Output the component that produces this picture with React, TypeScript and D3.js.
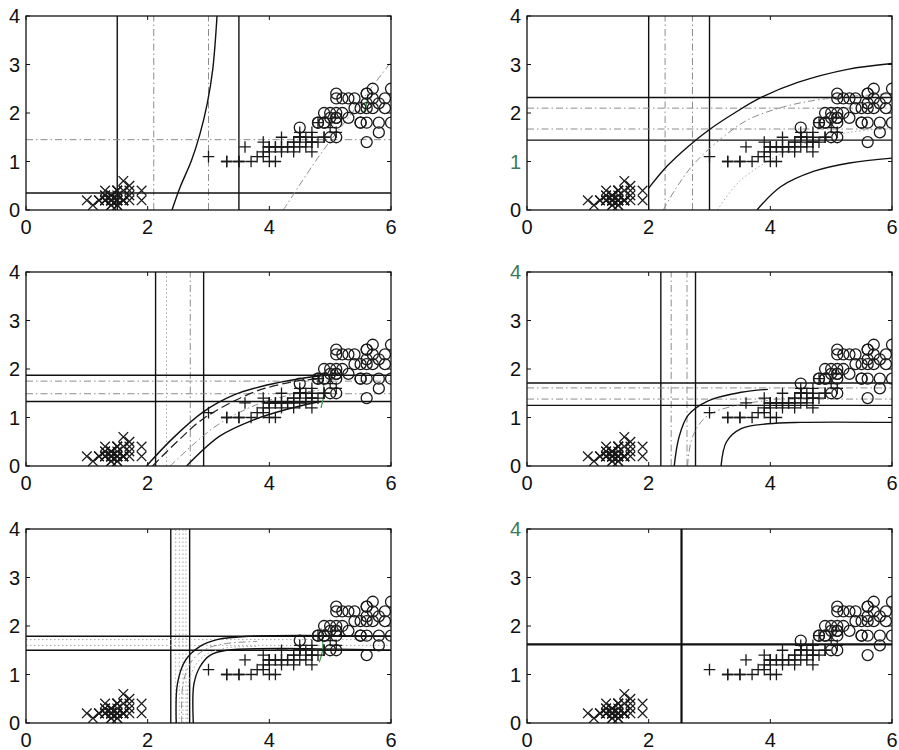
import React from "react";
import * as d3 from "d3";

type P = [number, number];

// Iris petal length / petal width
const SETOSA: P[] = [
  [1.4,0.2],[1.4,0.2],[1.3,0.2],[1.5,0.2],[1.4,0.2],[1.7,0.4],[1.4,0.3],[1.5,0.2],[1.4,0.2],[1.5,0.1],
  [1.5,0.2],[1.6,0.2],[1.4,0.1],[1.1,0.1],[1.2,0.2],[1.5,0.4],[1.3,0.4],[1.4,0.3],[1.7,0.3],[1.5,0.3],
  [1.7,0.2],[1.5,0.4],[1.0,0.2],[1.7,0.5],[1.9,0.2],[1.6,0.2],[1.6,0.4],[1.5,0.2],[1.4,0.2],[1.6,0.2],
  [1.6,0.2],[1.5,0.4],[1.5,0.1],[1.4,0.2],[1.5,0.2],[1.2,0.2],[1.3,0.2],[1.4,0.1],[1.3,0.2],[1.5,0.2],
  [1.3,0.3],[1.3,0.3],[1.3,0.2],[1.6,0.6],[1.9,0.4],[1.4,0.3],[1.6,0.2],[1.4,0.2],[1.5,0.2],[1.4,0.2],
];
const VERSICOLOR: P[] = [
  [4.7,1.4],[4.5,1.5],[4.9,1.5],[4.0,1.3],[4.6,1.5],[4.5,1.3],[4.7,1.6],[3.3,1.0],[4.6,1.3],[3.9,1.4],
  [3.5,1.0],[4.2,1.5],[4.0,1.0],[4.7,1.4],[3.6,1.3],[4.4,1.4],[4.5,1.5],[4.1,1.0],[4.5,1.5],[3.9,1.1],
  [4.8,1.8],[4.0,1.3],[4.9,1.5],[4.7,1.2],[4.3,1.3],[4.4,1.4],[4.8,1.4],[5.0,1.7],[4.5,1.5],[3.5,1.0],
  [3.8,1.1],[3.7,1.0],[3.9,1.2],[5.1,1.6],[4.5,1.5],[4.5,1.6],[4.7,1.5],[4.4,1.3],[4.1,1.3],[4.0,1.3],
  [4.4,1.2],[4.6,1.4],[4.0,1.2],[3.3,1.0],[4.2,1.3],[4.2,1.2],[4.2,1.3],[4.3,1.3],[3.0,1.1],[4.1,1.3],
];
const VIRGINICA: P[] = [
  [6.0,2.5],[5.1,1.9],[5.9,2.1],[5.6,1.8],[5.8,2.2],[6.6,2.1],[4.5,1.7],[6.3,1.8],[5.8,1.8],[6.1,2.5],
  [5.1,2.0],[5.3,1.9],[5.5,2.1],[5.0,2.0],[5.1,2.4],[5.3,2.3],[5.5,1.8],[6.7,2.2],[6.9,2.3],[5.0,1.5],
  [5.7,2.3],[4.9,2.0],[6.7,2.0],[4.9,1.8],[5.7,2.1],[6.0,1.8],[4.8,1.8],[4.9,1.8],[5.6,2.1],[5.8,1.6],
  [6.1,1.9],[6.4,2.0],[5.6,2.2],[5.1,1.5],[5.6,1.4],[6.1,2.3],[5.6,2.4],[5.5,1.8],[4.8,1.8],[5.4,2.1],
  [5.6,2.4],[5.1,2.3],[5.1,1.9],[5.9,2.3],[5.7,2.5],[5.2,2.3],[5.0,1.9],[5.2,2.0],[5.4,2.3],[5.1,1.8],
];

const X_TICKS = [0, 2, 4, 6];
const Y_TICKS = [0, 1, 2, 3, 4];

// Panel 1
const P1_V_SOLID = [1.5, 3.5];
const P1_V_GRAY = [2.1, 3.0];
const P1_H_SOLID = [0.35];
const P1_H_GRAY = [1.45];
const P1_CURVE_A: P[] = [[2.4,0],[2.53,0.46],[2.72,1.02],[2.86,1.57],[2.98,2.2],[3.07,2.9],[3.14,4]];
const P1_CURVE_B: P[] = [[4.23,0],[4.84,1.15],[5.45,2.15],[6.0,3.05]];
const P1_GREEN: P[] = [[5.55,2.0],[5.6,2.2],[5.62,2.4]];

// Panel 2
const P2_V_SOLID = [2.0, 3.0];
const P2_V_GRAY = [2.27, 2.72];
const P2_H_SOLID = [2.32, 1.44];
const P2_H_GRAY = [2.1, 1.67];
const P2_CURVE_UP: P[] = [[2.0,0.45],[2.3,0.9],[2.64,1.3],[3.0,1.66],[3.41,2.0],[3.85,2.32],[4.45,2.63],[5.27,2.9],[6,3.02]];
const P2_CURVE_MID: P[] = [[2.24,0],[2.45,0.45],[2.75,0.96],[3.2,1.48],[3.63,1.86],[4.2,2.12],[4.72,2.26],[5.2,2.33],[6,2.4]];
const P2_CURVE_LOW_GRAY: P[] = [[3.13,0],[3.5,0.6],[4.17,1.15],[4.7,1.43],[5.3,1.6],[6,1.7]];
const P2_CURVE_LOW: P[] = [[3.78,0],[4.17,0.48],[4.72,0.8],[5.3,0.97],[6,1.07]];

// Panel 3
const P3_V_SOLID = [2.13, 2.92];
const P3_V_GRAY = [2.31, 2.7];
const P3_H_SOLID = [1.87, 1.33];
const P3_H_GRAY = [1.75, 1.49];
const P3_CURVE_UP: P[] = [[1.98,0],[2.42,0.58],[2.92,1.12],[3.41,1.46],[3.96,1.67],[4.5,1.8],[4.85,1.86]];
const P3_CURVE_DASH: P[] = [[2.08,0],[2.5,0.52],[2.92,0.98],[3.74,1.52],[4.4,1.74],[4.85,1.8]];
const P3_CURVE_GRAY: P[] = [[2.37,0],[2.8,0.5],[3.19,0.88],[3.8,1.27],[4.4,1.48],[4.85,1.57]];
const P3_CURVE_LOW: P[] = [[2.64,0],[3.19,0.62],[3.74,0.95],[4.29,1.17],[4.72,1.3],[4.85,1.33]];
const P3_GREEN: P[] = [[4.85,1.2],[4.9,1.55],[4.85,1.9]];

// Panel 4
const P4_V_SOLID = [2.2, 2.77];
const P4_V_GRAY = [2.37, 2.63];
const P4_H_SOLID = [1.71, 1.25];
const P4_H_GRAY = [1.61, 1.38];
const P4_CURVE_UP: P[] = [[2.42,0],[2.5,0.6],[2.65,1.05],[2.97,1.34],[3.52,1.52],[3.96,1.58]];
const P4_CURVE_GRAY: P[] = [[2.64,0],[2.72,0.6],[2.97,1.04],[3.52,1.27],[3.96,1.35]];
const P4_CURVE_LOW: P[] = [[3.19,0],[3.28,0.5],[3.52,0.77],[3.96,0.87],[4.5,0.9],[6,0.9]];

// Panel 5
const P5_V_SOLID = [2.38, 2.69];
const P5_V_GRAY = [2.46, 2.52, 2.58, 2.63];
const P5_H_SOLID = [1.79, 1.5];
const P5_H_GRAY = [1.72, 1.6];
const P5_CURVE_OUT: P[] = [[2.47,0],[2.49,0.81],[2.62,1.29],[2.86,1.58],[3.14,1.72],[3.68,1.79],[6,1.79]];
const P5_CURVE_G1: P[] = [[2.56,0],[2.58,0.8],[2.71,1.25],[2.95,1.52],[3.3,1.64],[3.8,1.68]];
const P5_CURVE_G2: P[] = [[2.66,0],[2.67,0.8],[2.8,1.22],[3.0,1.44],[3.3,1.55],[3.8,1.58]];
const P5_CURVE_IN: P[] = [[2.75,0],[2.76,0.8],[2.86,1.16],[3.03,1.4],[3.3,1.5],[6,1.5]];
const P5_GREEN: P[] = [[4.82,1.25],[4.88,1.55],[4.85,1.95]];

// Panel 6
const P6_V_SOLID = [2.54];
const P6_H_SOLID = [1.62];

type Style = "solid" | "dashdot" | "dotted" | "dashed" | "green" | "thick";
interface Curve { pts: P[]; style: Style }
interface Panel {
  v: { x: number; style: Style }[];
  h: { y: number; style: Style }[];
  curves: Curve[];
  greenTick?: number;
}

const V = (a: number[], s: Style) => a.map((x) => ({ x, style: s }));
const H = (a: number[], s: Style) => a.map((y) => ({ y, style: s }));

const PANELS: Panel[] = [
  {
    v: [...V(P1_V_GRAY, "dashdot"), ...V(P1_V_SOLID, "solid")],
    h: [...H(P1_H_GRAY, "dashdot"), ...H(P1_H_SOLID, "solid")],
    curves: [{ pts: P1_CURVE_A, style: "solid" }, { pts: P1_CURVE_B, style: "dashdot" }, { pts: P1_GREEN, style: "green" }],
  },
  {
    v: [...V(P2_V_GRAY, "dashdot"), ...V(P2_V_SOLID, "solid")],
    h: [...H(P2_H_GRAY, "dashdot"), ...H(P2_H_SOLID, "solid")],
    curves: [
      { pts: P2_CURVE_MID, style: "dashdot" },
      { pts: P2_CURVE_LOW_GRAY, style: "dotted" },
      { pts: P2_CURVE_UP, style: "solid" },
      { pts: P2_CURVE_LOW, style: "solid" },
    ],
    greenTick: 1,
  },
  {
    v: [{ x: P3_V_GRAY[0], style: "dotted" }, { x: P3_V_GRAY[1], style: "dashdot" }, ...V(P3_V_SOLID, "solid")],
    h: [...H(P3_H_GRAY, "dashdot"), ...H(P3_H_SOLID, "solid")],
    curves: [
      { pts: P3_CURVE_GRAY, style: "dashdot" },
      { pts: P3_CURVE_DASH, style: "dashed" },
      { pts: P3_CURVE_UP, style: "solid" },
      { pts: P3_CURVE_LOW, style: "solid" },
      { pts: P3_GREEN, style: "green" },
    ],
  },
  {
    v: [...V(P4_V_GRAY, "dashdot"), ...V(P4_V_SOLID, "solid")],
    h: [...H(P4_H_GRAY, "dashdot"), ...H(P4_H_SOLID, "solid")],
    curves: [
      { pts: P4_CURVE_GRAY, style: "dashdot" },
      { pts: P4_CURVE_UP, style: "solid" },
      { pts: P4_CURVE_LOW, style: "solid" },
    ],
    greenTick: 4,
  },
  {
    v: [...V(P5_V_GRAY, "dotted"), ...V(P5_V_SOLID, "solid")],
    h: [...H(P5_H_GRAY, "dotted"), ...H(P5_H_SOLID, "solid")],
    curves: [
      { pts: P5_CURVE_G1, style: "dashdot" },
      { pts: P5_CURVE_G2, style: "dotted" },
      { pts: P5_CURVE_OUT, style: "solid" },
      { pts: P5_CURVE_IN, style: "solid" },
      { pts: P5_GREEN, style: "green" },
    ],
  },
  {
    v: V(P6_V_SOLID, "thick"),
    h: H(P6_H_SOLID, "thick"),
    curves: [],
    greenTick: 4,
  },
];

const STYLES: Record<Style, { stroke: string; w: number; dash?: string }> = {
  solid: { stroke: "#111", w: 1.4 },
  thick: { stroke: "#111", w: 2.2 },
  dashdot: { stroke: "#8c8c8c", w: 1, dash: "7,3,1.5,3" },
  dotted: { stroke: "#a8a8a8", w: 1, dash: "1.5,2.5" },
  dashed: { stroke: "#222", w: 1.3, dash: "9,4" },
  green: { stroke: "#3f9a4a", w: 1.3 },
};

const COLS = [26, 527];
const ROWS = [16, 272, 529];
const PW = 365;
const PH = 194;
const FONT = "Liberation Sans, Arial, Helvetica, sans-serif";

function PanelView({ p, idx }: { p: Panel; idx: number }) {
  const left = COLS[idx % 2];
  const top = ROWS[Math.floor(idx / 2)];
  const x = d3.scaleLinear().domain([0, 6]).range([left, left + PW]);
  const y = d3.scaleLinear().domain([0, 4]).range([top + PH, top]);
  const line = d3
    .line<P>()
    .x((d) => x(d[0]))
    .y((d) => y(d[1]))
    .curve(d3.curveCatmullRom.alpha(0.5));
  const clipId = `clip${idx}`;
  const st = (s: Style) => STYLES[s];
  return (
    <g>
      <defs>
        <clipPath id={clipId}>
          <rect x={left} y={top} width={PW} height={PH} />
        </clipPath>
      </defs>
      <g clipPath={`url(#${clipId})`}>
        {p.v.map((d, i) => (
          <line key={"v" + i} x1={x(d.x)} x2={x(d.x)} y1={y(0)} y2={y(4)}
            stroke={st(d.style).stroke} strokeWidth={st(d.style).w} strokeDasharray={st(d.style).dash} />
        ))}
        {p.h.map((d, i) => (
          <line key={"h" + i} x1={x(0)} x2={x(6)} y1={y(d.y)} y2={y(d.y)}
            stroke={st(d.style).stroke} strokeWidth={st(d.style).w} strokeDasharray={st(d.style).dash} />
        ))}
        {p.curves.map((c, i) => (
          <path key={"c" + i} d={line(c.pts) || ""} fill="none"
            stroke={st(c.style).stroke} strokeWidth={st(c.style).w} strokeDasharray={st(c.style).dash} />
        ))}
        {SETOSA.map((d, i) => {
          const cx = x(d[0]), cy = y(d[1]), r = 4.8;
          return (
            <path key={"s" + i} d={`M${cx - r},${cy - r}L${cx + r},${cy + r}M${cx - r},${cy + r}L${cx + r},${cy - r}`}
              stroke="#1a1a1a" strokeWidth={1.3} fill="none" />
          );
        })}
        {VERSICOLOR.map((d, i) => {
          const cx = x(d[0]), cy = y(d[1]), r = 5.8;
          return (
            <path key={"e" + i} d={`M${cx - r},${cy}L${cx + r},${cy}M${cx},${cy - r}L${cx},${cy + r}`}
              stroke="#1a1a1a" strokeWidth={1.3} fill="none" />
          );
        })}
        {VIRGINICA.map((d, i) => (
          <circle key={"g" + i} cx={x(d[0])} cy={y(d[1])} r={5.5} fill="none" stroke="#1a1a1a" strokeWidth={1.3} />
        ))}
      </g>
      <rect x={left} y={top} width={PW} height={PH} fill="none" stroke="#111" strokeWidth={1.3} />
      {X_TICKS.map((t) => (
        <g key={"xt" + t}>
          <line x1={x(t)} x2={x(t)} y1={y(0)} y2={y(0) - 4} stroke="#111" />
          <line x1={x(t)} x2={x(t)} y1={y(4)} y2={y(4) + 4} stroke="#111" />
          <text x={x(t)} y={y(0) + 24} textAnchor="middle" fontSize={20}
            fontFamily={FONT} fill="#111">{t}</text>
        </g>
      ))}
      {Y_TICKS.map((t) => (
        <g key={"yt" + t}>
          <line x1={x(0)} x2={x(0) + 4} y1={y(t)} y2={y(t)} stroke="#111" />
          <line x1={x(6)} x2={x(6) - 4} y1={y(t)} y2={y(t)} stroke="#111" />
          <text x={x(0) - 6} y={y(t) + 7} textAnchor="end" fontSize={20}
            fontFamily={FONT} fill={p.greenTick === t ? "#3c7a5a" : "#111"}>{t}</text>
        </g>
      ))}
    </g>
  );
}

export default function App() {
  return (
    <svg width={899} height={750} style={{ position: "absolute", left: 0, top: 0, background: "#fff" }}>
      <rect width={899} height={750} fill="#fff" />
      {PANELS.map((p, i) => (
        <PanelView key={i} p={p} idx={i} />
      ))}
    </svg>
  );
}
